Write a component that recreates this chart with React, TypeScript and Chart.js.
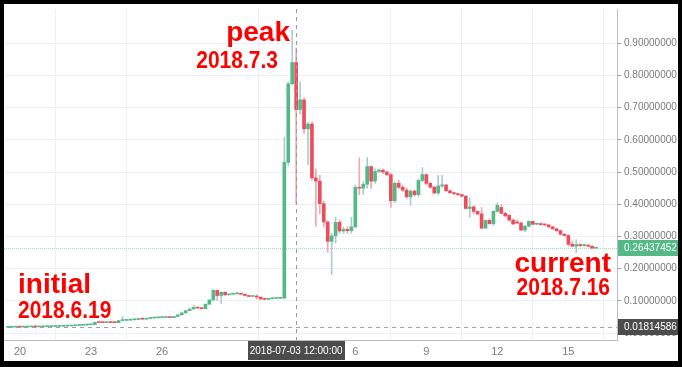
import React, { useEffect, useRef } from 'react';
import { Chart, registerables } from 'chart.js';
Chart.register(...registerables);

// candle index of the first candle (4-hour candles, index 0 = 2018-06-20 00:00)
const startIndex = -3;

const opens = [
  0.01814586, 0.0185, 0.0188, 0.0190, 0.0189, 0.0193, 0.0195, 0.0197, 0.0196, 0.0200,
  0.0203, 0.0206, 0.0209, 0.0212, 0.0215, 0.0221, 0.0225, 0.0230, 0.0238, 0.0245,
  0.0255, 0.0262, 0.0268, 0.0335, 0.0331, 0.0329, 0.0333, 0.0328, 0.0326, 0.0390,
  0.0398, 0.0405, 0.0415, 0.0425, 0.0440, 0.0436, 0.0455, 0.0470, 0.0478, 0.0485,
  0.0488, 0.0490, 0.0485, 0.0520, 0.0570, 0.0630, 0.0700, 0.0750, 0.0800, 0.0780,
  0.0760, 0.0900, 0.1030, 0.1330, 0.1170, 0.1270, 0.1190, 0.1210, 0.1220, 0.1240,
  0.1210, 0.1170, 0.1140, 0.1150, 0.1120, 0.1060, 0.1050, 0.1070, 0.1080, 0.1082,
  0.1090, 0.5300, 0.7740, 0.8400, 0.6940, 0.7240, 0.6340, 0.6490, 0.4820, 0.4720,
  0.4020, 0.3450, 0.2850, 0.3020, 0.3440, 0.3170, 0.3220, 0.3180, 0.3300, 0.4530,
  0.4500, 0.4620, 0.5170, 0.4720, 0.5020, 0.5060, 0.5000, 0.4920, 0.4110, 0.4650,
  0.4530, 0.4440, 0.4230, 0.4410, 0.4300, 0.4740, 0.4920, 0.4650, 0.4530, 0.4350,
  0.4570, 0.4600, 0.4420, 0.4360, 0.4330, 0.4300, 0.4250, 0.3870, 0.3920, 0.3780,
  0.3700, 0.3260, 0.3500, 0.3400, 0.3780, 0.3900, 0.3720, 0.3660, 0.3510, 0.3450,
  0.3420, 0.3200, 0.3320, 0.3470, 0.3380, 0.3400, 0.3370, 0.3360, 0.3300, 0.3240,
  0.3180, 0.3070, 0.3030, 0.2760, 0.2700, 0.2750, 0.2720, 0.2730, 0.2700, 0.2640,
];

const highs = [
  0.0187, 0.0189, 0.0192, 0.0191, 0.0195, 0.0197, 0.0199, 0.0198, 0.0202, 0.0205,
  0.0208, 0.0211, 0.0214, 0.0217, 0.0223, 0.0227, 0.0232, 0.0240, 0.0247, 0.0257,
  0.0264, 0.0270, 0.0345, 0.0338, 0.0334, 0.0336, 0.0335, 0.0331, 0.0400, 0.0520,
  0.0410, 0.0420, 0.0430, 0.0445, 0.0443, 0.0460, 0.0475, 0.0482, 0.0490, 0.0493,
  0.0496, 0.0494, 0.0525, 0.0575, 0.0640, 0.0705, 0.0755, 0.0860, 0.0810, 0.0790,
  0.0905, 0.1040, 0.1350, 0.1340, 0.1280, 0.1285, 0.1220, 0.1230, 0.1260, 0.1245,
  0.1215, 0.1180, 0.1160, 0.1200, 0.1125, 0.1070, 0.1080, 0.1085, 0.1090, 0.1095,
  0.6080, 0.7800, 0.9400, 0.8850, 0.7800, 0.7300, 0.6550, 0.6550, 0.5100, 0.4900,
  0.4100, 0.3500, 0.3100, 0.3600, 0.3500, 0.3300, 0.3300, 0.3600, 0.4600, 0.5440,
  0.4700, 0.5440, 0.5200, 0.5100, 0.5100, 0.5100, 0.5030, 0.4980, 0.4700, 0.4750,
  0.4600, 0.4500, 0.4450, 0.4450, 0.4780, 0.5140, 0.4950, 0.4680, 0.4560, 0.4900,
  0.4900, 0.4620, 0.4450, 0.4380, 0.4350, 0.4320, 0.4280, 0.4200, 0.3950, 0.3800,
  0.3900, 0.3520, 0.3550, 0.3800, 0.4050, 0.4000, 0.3750, 0.3680, 0.3540, 0.3520,
  0.3450, 0.3350, 0.3490, 0.3480, 0.3420, 0.3420, 0.3390, 0.3380, 0.3320, 0.3260,
  0.3210, 0.3100, 0.3060, 0.2860, 0.2900, 0.2780, 0.2760, 0.2750, 0.2720, 0.2660,
];

const lows = [
  0.01814586, 0.0183, 0.0186, 0.0186, 0.0188, 0.0191, 0.0193, 0.0194, 0.0195, 0.0198,
  0.0201, 0.0204, 0.0207, 0.0210, 0.0213, 0.0219, 0.0223, 0.0228, 0.0236, 0.0243,
  0.0252, 0.0258, 0.0265, 0.0328, 0.0326, 0.0327, 0.0325, 0.0322, 0.0324, 0.0385,
  0.0392, 0.0400, 0.0410, 0.0420, 0.0430, 0.0432, 0.0450, 0.0465, 0.0472, 0.0480,
  0.0483, 0.0480, 0.0482, 0.0515, 0.0565, 0.0625, 0.0695, 0.0745, 0.0770, 0.0750,
  0.0755, 0.0895, 0.1020, 0.1010, 0.0920, 0.1170, 0.1180, 0.1200, 0.1215, 0.1200,
  0.1160, 0.1130, 0.1130, 0.1060, 0.1050, 0.1040, 0.1045, 0.1065, 0.1070, 0.1075,
  0.1080, 0.5200, 0.7700, 0.4000, 0.6800, 0.6200, 0.5230, 0.4750, 0.3320, 0.3700,
  0.3300, 0.2510, 0.1820, 0.2800, 0.3100, 0.3100, 0.3100, 0.3100, 0.3280, 0.4300,
  0.4300, 0.4500, 0.4500, 0.4650, 0.4980, 0.4950, 0.4880, 0.3900, 0.4050, 0.4480,
  0.4400, 0.4180, 0.3970, 0.4250, 0.4250, 0.4700, 0.4600, 0.4500, 0.4320, 0.4300,
  0.4520, 0.4400, 0.4330, 0.4300, 0.4270, 0.4220, 0.3850, 0.3600, 0.3700, 0.3680,
  0.3240, 0.3240, 0.3380, 0.3350, 0.3750, 0.3700, 0.3620, 0.3480, 0.3370, 0.3400,
  0.3180, 0.3150, 0.3300, 0.3360, 0.3360, 0.3350, 0.3340, 0.3280, 0.3220, 0.3160,
  0.3050, 0.3010, 0.2700, 0.2680, 0.2500, 0.2680, 0.2690, 0.2680, 0.2620, 0.2620,
];

const closes = [
  0.0185, 0.0188, 0.0190, 0.0189, 0.0193, 0.0195, 0.0197, 0.0196, 0.0200, 0.0203,
  0.0206, 0.0209, 0.0212, 0.0215, 0.0221, 0.0225, 0.0230, 0.0238, 0.0245, 0.0255,
  0.0262, 0.0268, 0.0335, 0.0331, 0.0329, 0.0333, 0.0328, 0.0326, 0.0390, 0.0398,
  0.0405, 0.0415, 0.0425, 0.0440, 0.0436, 0.0455, 0.0470, 0.0478, 0.0485, 0.0488,
  0.0490, 0.0485, 0.0520, 0.0570, 0.0630, 0.0700, 0.0750, 0.0800, 0.0780, 0.0760,
  0.0900, 0.1030, 0.1330, 0.1170, 0.1270, 0.1190, 0.1210, 0.1220, 0.1240, 0.1210,
  0.1170, 0.1140, 0.1150, 0.1120, 0.1060, 0.1050, 0.1070, 0.1080, 0.1082, 0.1090,
  0.5300, 0.7740, 0.8400, 0.6940, 0.7240, 0.6340, 0.6490, 0.4820, 0.4720, 0.4020,
  0.3450, 0.2850, 0.3020, 0.3440, 0.3170, 0.3220, 0.3180, 0.3300, 0.4530, 0.4500,
  0.4620, 0.5170, 0.4720, 0.5020, 0.5060, 0.5000, 0.4920, 0.4110, 0.4650, 0.4530,
  0.4440, 0.4230, 0.4410, 0.4300, 0.4740, 0.4920, 0.4650, 0.4530, 0.4350, 0.4570,
  0.4600, 0.4420, 0.4360, 0.4330, 0.4300, 0.4250, 0.3870, 0.3920, 0.3780, 0.3700,
  0.3260, 0.3500, 0.3400, 0.3780, 0.3970, 0.3720, 0.3640, 0.3510, 0.3390, 0.3420,
  0.3200, 0.3320, 0.3470, 0.3380, 0.3400, 0.3370, 0.3360, 0.3300, 0.3240, 0.3180,
  0.3070, 0.3030, 0.2760, 0.2700, 0.2750, 0.2720, 0.2730, 0.2700, 0.2640, 0.26437452,
];

const xTickIndices = [0, 18, 36, 85, 103, 121, 139];
const xTickLabels = ['20', '23', '26', '6', '9', '12', '15'];
const yTickValues = [0, 0.1, 0.2, 0.3, 0.4, 0.5, 0.6, 0.7, 0.8, 0.9];

const initialPrice = 0.01814586;
const currentPrice = 0.26437452;
const crosshairIndex = 70;
const crosshairLabel = '2018-07-03 12:00:00';

const annotationTexts = ['peak', '2018.7.3', 'initial', '2018.6.19', 'current', '2018.7.16'];

const GREEN = '#53b987';
const RED = '#eb4d5c';
const GREEN_WICK = '#a9cdd3';
const RED_WICK = '#f5a6ae';
const GRID = '#edf1f5';
const AXIS_TEXT = '#7a7a7a';
const LABEL_BG = '#4c4c4c';
const FONT = '"Liberation Sans", Arial, sans-serif';

const overlay = {
  id: 'overlay',
  beforeDatasetsDraw(chart: any) {
    const { ctx, chartArea: a, scales } = chart;
    const y = scales.y;
    ctx.save();
    ctx.lineWidth = 1;
    const yi = Math.round(y.getPixelForValue(initialPrice)) + 0.5;
    ctx.strokeStyle = '#a0a0a0';
    ctx.setLineDash([4, 4]);
    ctx.beginPath();
    ctx.moveTo(a.left, yi);
    ctx.lineTo(a.right, yi);
    ctx.stroke();
    const yc = Math.round(y.getPixelForValue(currentPrice)) + 0.5;
    ctx.strokeStyle = 'rgba(83,185,135,0.55)';
    ctx.setLineDash([1, 1]);
    ctx.beginPath();
    ctx.moveTo(a.left, yc);
    ctx.lineTo(a.right, yc);
    ctx.stroke();
    ctx.restore();
  },
  afterDatasetsDraw(chart: any) {
    const { ctx, chartArea: a, scales } = chart;
    const x = scales.x;
    ctx.save();
    const xc = Math.round(x.getPixelForValue(crosshairIndex)) + 0.5;
    ctx.strokeStyle = '#9a9a9a';
    ctx.lineWidth = 1;
    ctx.setLineDash([4, 4]);
    ctx.beginPath();
    ctx.moveTo(xc, a.top);
    ctx.lineTo(xc, a.bottom);
    ctx.stroke();
    ctx.restore();
  },
  afterDraw(chart: any) {
    const { ctx, chartArea: a, scales, width, height } = chart;
    const x = scales.x;
    const y = scales.y;
    ctx.save();
    // price labels on the right axis
    const drawPriceLabel = (val: number, bg: string) => {
      const py = Math.round(y.getPixelForValue(val));
      ctx.fillStyle = bg;
      ctx.fillRect(a.right + 1, py - 8, width - a.right - 4, 16);
      ctx.fillStyle = '#ffffff';
      ctx.font = '10px ' + FONT;
      ctx.textAlign = 'left';
      ctx.textBaseline = 'middle';
      ctx.fillText(val.toFixed(8), a.right + 7, py + 0.5);
    };
    drawPriceLabel(currentPrice, GREEN);
    drawPriceLabel(initialPrice, LABEL_BG);
    // crosshair time label
    const xc = x.getPixelForValue(crosshairIndex);
    ctx.font = '10px ' + FONT;
    const tw = ctx.measureText(crosshairLabel).width + 4;
    ctx.fillStyle = LABEL_BG;
    ctx.fillRect(Math.round(xc - tw / 2), a.bottom + 1, Math.round(tw), 19);
    ctx.fillStyle = '#ffffff';
    ctx.textAlign = 'center';
    ctx.textBaseline = 'middle';
    ctx.fillText(crosshairLabel, xc, a.bottom + 11);
    // red annotations
    ctx.fillStyle = '#ff0000';
    ctx.textBaseline = 'alphabetic';
    const big = 'bold 28px ' + FONT;
    const small = 'bold 21px ' + FONT;
    const stretched = (t: string, px: number, py: number, align: CanvasTextAlign) => {
      ctx.save();
      ctx.translate(px, py);
      ctx.scale(1, 1.1);
      ctx.textAlign = align;
      ctx.font = small;
      ctx.fillText(t, 0, 0);
      ctx.restore();
    };
    ctx.textAlign = 'right';
    ctx.font = big;
    ctx.fillText(annotationTexts[0], 290, 41);
    stretched(annotationTexts[1], 278, 68, 'right');
    ctx.textAlign = 'left';
    ctx.font = big;
    ctx.fillText(annotationTexts[2], 18, 293);
    stretched(annotationTexts[3], 18, 318, 'left');
    ctx.textAlign = 'right';
    ctx.font = big;
    ctx.fillText(annotationTexts[4], 611, 272);
    stretched(annotationTexts[5], 610, 295, 'right');
    // black frame
    ctx.fillStyle = '#000000';
    ctx.fillRect(0, 0, width, 4);
    ctx.fillRect(0, 0, 4, height);
    ctx.fillRect(width - 4, 0, 4, height);
    ctx.fillRect(0, height - 6, width, 6);
    ctx.restore();
  },
};

export default function App() {
  const ref = useRef<HTMLCanvasElement>(null);
  useEffect(() => {
    document.body.style.margin = '0';
    const idx = closes.map((_, k) => startIndex + k);
    const up = closes.map((c, k) => c >= opens[k]);
    const chart = new Chart(ref.current as HTMLCanvasElement, {
      type: 'bar',
      data: {
        datasets: [
          {
            label: 'body',
            data: idx.map((xv, k) => ({ x: xv, y: [opens[k], closes[k]] })) as any,
            backgroundColor: up.map((u) => (u ? GREEN : RED)),
            barThickness: 3,
            minBarLength: 1,
            grouped: false,
            order: 0,
          } as any,
          {
            label: 'wick',
            data: idx.map((xv, k) => ({ x: xv, y: [lows[k], highs[k]] })) as any,
            backgroundColor: up.map((u) => (u ? GREEN_WICK : RED_WICK)),
            barThickness: 1,
            grouped: false,
            order: 1,
          } as any,
        ],
      },
      options: {
        animation: false,
        responsive: false,
        maintainAspectRatio: false,
        layout: { padding: { left: 0, top: 0, right: 3, bottom: 9 } },
        plugins: { legend: { display: false }, tooltip: { enabled: false } },
        scales: {
          x: {
            type: 'linear',
            min: -5.07,
            max: 151.33,
            offset: false,
            afterBuildTicks: (s: any) => {
              s.ticks = xTickIndices.map((v) => ({ value: v }));
            },
            afterFit: (s: any) => {
              s.height = 18;
            },
            ticks: {
              autoSkip: false,
              maxRotation: 0,
              padding: 5,
              color: AXIS_TEXT,
              font: { family: FONT, size: 11 },
              callback: (v: any) => xTickLabels[xTickIndices.indexOf(Number(v))] ?? '',
            },
            grid: { color: GRID, drawTicks: false },
            border: { color: '#bdbdbd' },
          },
          y: {
            position: 'right',
            min: -0.0211,
            max: 1.006,
            afterBuildTicks: (s: any) => {
              s.ticks = yTickValues.map((v) => ({ value: v }));
            },
            afterFit: (s: any) => {
              s.width = 62;
            },
            ticks: {
              padding: 3,
              color: AXIS_TEXT,
              font: { family: FONT, size: 10 },
              callback: (v: any) => Number(v).toFixed(8),
            },
            grid: { color: GRID, tickLength: 4, tickColor: '#9a9a9a' },
            border: { color: '#bdbdbd' },
          },
        },
      } as any,
      plugins: [overlay],
    });
    return () => chart.destroy();
  }, []);
  return <canvas ref={ref} width={682} height={367} style={{ display: 'block' }} />;
}
